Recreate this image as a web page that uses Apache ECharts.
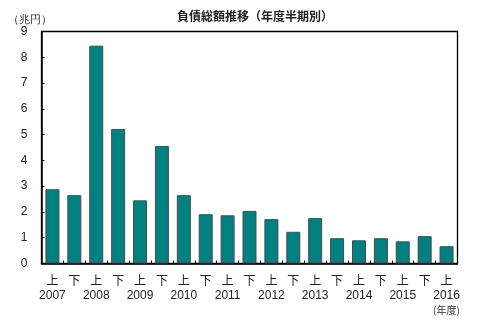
<!DOCTYPE html>
<html><head><meta charset="utf-8">
<script src="https://cdn.jsdelivr.net/npm/echarts@6/dist/echarts.min.js"></script>
<style>html,body{margin:0;padding:0;background:#fff}#c{width:500px;height:326px}</style>
</head><body><div id="c"></div>
<script>
const halves = ['上','下','上','下','上','下','上','下','上','下','上','下','上','下','上','下','上','下','上'];
const years  = ['2007','','2008','','2009','','2010','','2011','','2012','','2013','','2014','','2015','','2016'];
const values = [2.88,2.65,8.45,5.22,2.45,4.56,2.65,1.91,1.87,2.04,1.72,1.23,1.76,0.98,0.90,0.98,0.86,1.06,0.67];
const yTicks = [0,1,2,3,4,5,6,7,8,9];
const title = '負債総額推移（年度半期別）';
const yUnit = '（兆円）';
const xUnit = '(年度)';

const categories = halves.map((h,i)=> h + '\n' + (years[i] || ' '));
const chart = echarts.init(document.getElementById('c'), null, {renderer:'canvas'});
const jp = '"Liberation Sans", "Noto Sans CJK JP", sans-serif';
chart.setOption({
  animation:false,
  backgroundColor:'#fff',
  title:{text:title, left:250, top:5, textAlign:'center',
    textStyle:{fontSize:12, fontWeight:'bold', color:'#222', fontFamily:'"Noto Sans CJK JP", sans-serif'}},
  graphic:[
    {type:'text', left:8, top:14, style:{text:yUnit, fontSize:11, fill:'#333', font:'11px "Noto Sans CJK JP", sans-serif'}},
    {type:'text', left:433, top:305, style:{text:xUnit, fill:'#333', font:'10px "Noto Sans CJK JP", sans-serif'}},
    {type:'rect', shape:{x:41.5, y:31.5, width:416, height:232}, style:{fill:'none', stroke:'#000', lineWidth:1.3}, z:-1}
  ],
  grid:{left:41.5, right:42.5, top:31.5, bottom:62.5, show:false},
  xAxis:{type:'category', data:categories,
    axisLine:{lineStyle:{color:'#000', width:1.5}},
    axisTick:{show:true, inside:true, length:3, lineStyle:{color:'#000'}},
    axisLabel:{interval:0, color:'#222', fontSize:12, lineHeight:14, margin:11, fontFamily:jp}},
  yAxis:{type:'value', min:0, max:9, interval:1,
    axisLine:{show:true, lineStyle:{color:'#000', width:1.5}},
    axisTick:{show:true, inside:true, length:3, lineStyle:{color:'#000'}},
    splitLine:{show:false},
    axisLabel:{color:'#222', fontSize:12, margin:14, fontFamily:jp,
      formatter:v=> yTicks.includes(v) ? String(v) : ''}},
  series:[{type:'bar', data:values, barWidth:14,
    itemStyle:{color:'#008080', borderColor:'#4a4a4a', borderWidth:1}}]
});
</script></body></html>
